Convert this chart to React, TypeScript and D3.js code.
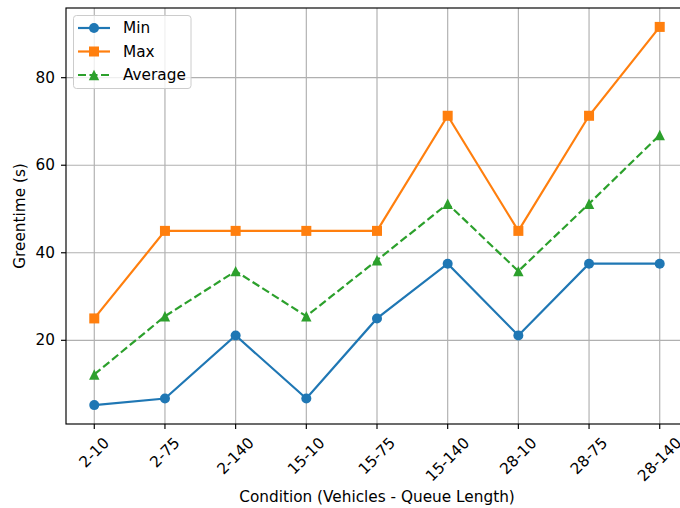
import React, { useEffect, useRef } from "react";
import * as d3 from "d3";

const categories = ["2-10", "2-75", "2-140", "15-10", "15-75", "15-140", "28-10", "28-75", "28-140"];
const minValues = [5.2, 6.7, 21.1, 6.7, 25.0, 37.5, 21.1, 37.5, 37.5];
const maxValues = [25.0, 45.0, 45.0, 45.0, 45.0, 71.3, 45.0, 71.3, 91.6];
const avgValues = [12.2, 25.5, 35.8, 25.5, 38.3, 51.2, 35.8, 51.2, 66.9];
const yTicks = [20, 40, 60, 80];
const seriesNames = ["Min", "Max", "Average"];

const W = 680, H = 508;
const M = { left: 66, right: 688, top: 8, bottom: 424 };
const FONT = "DejaVu Sans, sans-serif";
const FS = 15.3;
const COLORS = ["#1f77b4", "#ff7f0e", "#2ca02c"];

export default function App() {
  const ref = useRef<SVGSVGElement>(null);
  useEffect(() => {
    const svg = d3.select(ref.current);
    svg.selectAll("*").remove();
    const n = categories.length;
    const x = d3.scaleLinear().domain([-0.4, n - 1 + 0.4]).range([M.left, M.right]);
    const all = [...minValues, ...maxValues, ...avgValues];
    const lo = d3.min(all)!, hi = d3.max(all)!;
    const pad = (hi - lo) * 0.05;
    const y = d3.scaleLinear().domain([lo - pad, hi + pad]).range([M.bottom, M.top]);

    const g = svg.append("g");
    categories.forEach((_, i) => {
      g.append("line").attr("x1", x(i)).attr("x2", x(i)).attr("y1", M.top).attr("y2", M.bottom)
        .attr("stroke", "#b0b0b0").attr("stroke-width", 1.16);
    });
    yTicks.forEach((t) => {
      g.append("line").attr("x1", M.left).attr("x2", M.right).attr("y1", y(t)).attr("y2", y(t))
        .attr("stroke", "#b0b0b0").attr("stroke-width", 1.16);
    });

    const line = d3.line<number>().x((_, i) => x(i)).y((d) => y(d));
    const series = [minValues, maxValues, avgValues];
    series.forEach((vals, si) => {
      g.append("path").attr("d", line(vals)!).attr("fill", "none").attr("stroke", COLORS[si])
        .attr("stroke-width", 2.2)
        .attr("stroke-dasharray", si === 2 ? "8,3.5" : null);
    });
    const drawMarker = (sel: any, si: number, cx: number, cy: number) => {
      if (si === 0) {
        sel.append("circle").attr("cx", cx).attr("cy", cy).attr("r", 5).attr("fill", COLORS[si]);
      } else if (si === 1) {
        sel.append("rect").attr("x", cx - 5).attr("y", cy - 5).attr("width", 10).attr("height", 10).attr("fill", COLORS[si]);
      } else {
        sel.append("path").attr("d", `M${cx},${cy - 5.2}L${cx + 5.2},${cy + 5.2}L${cx - 5.2},${cy + 5.2}Z`).attr("fill", COLORS[si]);
      }
    };
    series.forEach((vals, si) => {
      vals.forEach((v, i) => drawMarker(g, si, x(i), y(v)));
    });

    g.append("rect").attr("x", M.left).attr("y", M.top).attr("width", M.right - M.left).attr("height", M.bottom - M.top)
      .attr("fill", "none").attr("stroke", "#000").attr("stroke-width", 1.16);

    categories.forEach((c, i) => {
      g.append("line").attr("x1", x(i)).attr("x2", x(i)).attr("y1", M.bottom).attr("y2", M.bottom + 5)
        .attr("stroke", "#000").attr("stroke-width", 1.16);
      const t = g.append("text").text(c).attr("font-family", FONT).attr("font-size", FS).attr("fill", "#000")
        .attr("text-anchor", "middle").attr("dominant-baseline", "central");
      const w = (t.node() as SVGTextElement).getComputedTextLength();
      const h = FS * 1.17;
      const cy = M.bottom + 10 + ((w + h) * Math.SQRT1_2) / 2;
      t.attr("x", x(i)).attr("y", cy).attr("transform", `rotate(-45,${x(i)},${cy})`);
    });
    yTicks.forEach((tv) => {
      g.append("line").attr("x1", M.left - 5).attr("x2", M.left).attr("y1", y(tv)).attr("y2", y(tv))
        .attr("stroke", "#000").attr("stroke-width", 1.16);
      g.append("text").text(tv).attr("x", M.left - 11).attr("y", y(tv)).attr("font-family", FONT).attr("font-size", FS)
        .attr("text-anchor", "end").attr("dominant-baseline", "central").attr("fill", "#000");
    });

    g.append("text").text("Condition (Vehicles - Queue Length)").attr("x", (M.left + M.right) / 2).attr("y", 502)
      .attr("font-family", FONT).attr("font-size", FS).attr("text-anchor", "middle").attr("fill", "#000");
    const ly = (M.top + M.bottom) / 2;
    g.append("text").text("Greentime (s)").attr("x", 20).attr("y", ly)
      .attr("transform", `rotate(-90,20,${ly})`)
      .attr("font-family", FONT).attr("font-size", FS).attr("text-anchor", "middle").attr("dominant-baseline", "central").attr("fill", "#000");

    const lg = g.append("g");
    lg.append("rect").attr("x", 73.5).attr("y", 15.5).attr("width", 117.5).attr("height", 73).attr("rx", 3)
      .attr("fill", "#fff").attr("fill-opacity", 0.8).attr("stroke", "#cccccc").attr("stroke-width", 1);
    seriesNames.forEach((name, si) => {
      const cy = 28 + si * 23.5;
      lg.append("line").attr("x1", 78).attr("x2", 110).attr("y1", cy).attr("y2", cy).attr("stroke", COLORS[si])
        .attr("stroke-width", 2.2).attr("stroke-dasharray", si === 2 ? "8,3.5" : null);
      drawMarker(lg, si, 94, cy);
      lg.append("text").text(name).attr("x", 123).attr("y", cy).attr("font-family", FONT).attr("font-size", FS)
        .attr("dominant-baseline", "central").attr("fill", "#000");
    });
  }, []);
  return <svg ref={ref} width={W} height={H} style={{ position: "absolute", left: 0, top: 0 }} />;
}
